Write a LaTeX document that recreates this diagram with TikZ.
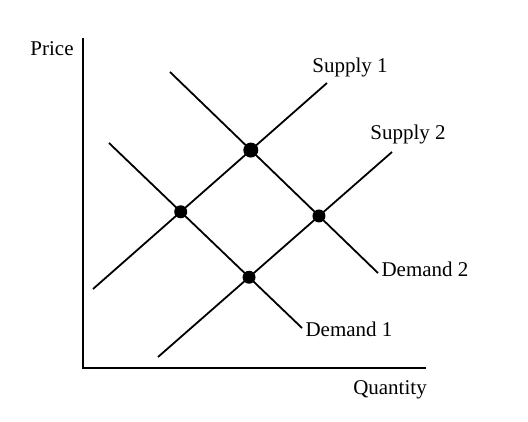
\documentclass[tikz,border=0pt]{standalone}
\usepackage{fontspec}
\setmainfont{Liberation Serif}
\usetikzlibrary{intersections}
\begin{document}
\begin{tikzpicture}[x=1pt,y=-1pt,
  curve/.style={line width=1.8pt},
  axisline/.style={line width=1.8pt},
  dot/.style={circle,fill=black,inner sep=0pt,minimum size=#1},
  lbl/.style={font=\fontsize{21}{24}\selectfont,inner sep=0pt}]
\useasboundingbox (0,0) rectangle (528,421);
% axes
\coordinate (top) at (83,38);
\coordinate (origin) at (83,368);
\coordinate (right) at (426,368);
\draw[axisline] (top) -- (origin) -- (right);
% curve end points
\coordinate (s1a) at (93,289);  \coordinate (s1b) at (327,83);
\coordinate (s2a) at (158,357); \coordinate (s2b) at (392,152);
\coordinate (d1a) at (109,143); \coordinate (d1b) at (302,328);
\coordinate (d2a) at (170,72);  \coordinate (d2b) at (378,273);
\draw[curve,name path=S1] (s1a) -- (s1b);
\draw[curve,name path=S2] (s2a) -- (s2b);
\draw[curve,name path=D1] (d1a) -- (d1b);
\draw[curve,name path=D2] (d2a) -- (d2b);
% equilibrium points
\path[name intersections={of=S1 and D2,by=e12}];
\path[name intersections={of=S1 and D1,by=e11}];
\path[name intersections={of=S2 and D2,by=e22}];
\path[name intersections={of=S2 and D1,by=e21}];
\node[dot=15pt] (p12) at (e12) {};
\node[dot=13pt] (p11) at (e11) {};
\node[dot=13pt] (p22) at (e22) {};
\node[dot=13pt] (p21) at (e21) {};
% labels
\node[lbl] (price) at (52,49) {Price};
\node[lbl] (sup1) at (350,67) {Supply 1};
\node[lbl] (sup2) at (408,134) {Supply 2};
\node[lbl] (dem2) at (425,269) {Demand 2};
\node[lbl] (dem1) at (349,329) {Demand 1};
\node[lbl] (qty) at (390,390) {Quantity};
\end{tikzpicture}
\end{document}
